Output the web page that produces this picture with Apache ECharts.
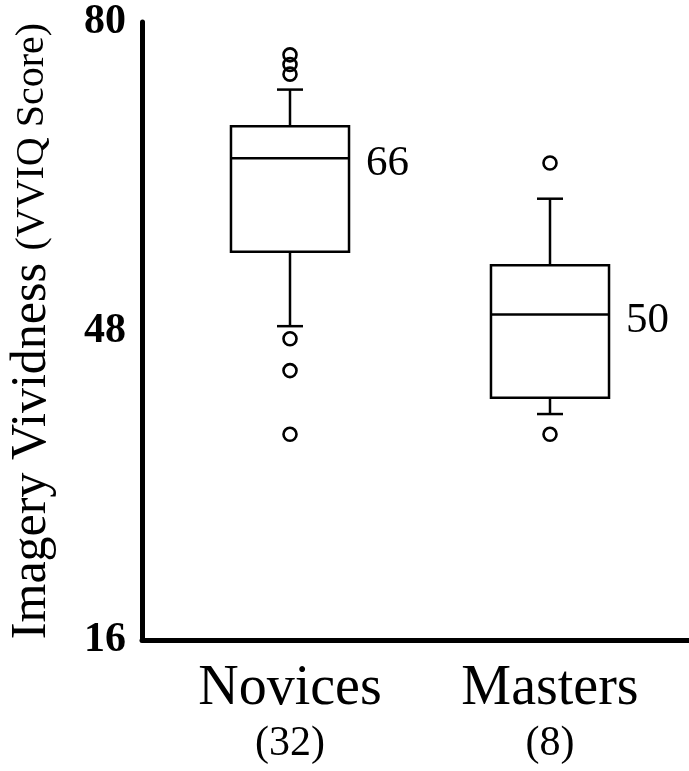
<!DOCTYPE html>
<html>
<head>
<meta charset="utf-8">
<script src="https://cdn.jsdelivr.net/npm/echarts@6/dist/echarts.min.js"></script>
<style>
  html, body { margin: 0; padding: 0; background: #fff; }
  #chart1 { width: 689px; height: 771px; }
</style>
</head>
<body>
<div id="chart1"></div>
<script>
// values
var groups = ['Novices', 'Masters'];
var groupN = [32, 8];
var whiskerLow = [48.5, 39.4];
var q1 = [56.2, 41.1];
var medians = [65.9, 49.7];
var q3 = [69.2, 54.8];
var whiskerHigh = [73.0, 61.7];
var outliersNovices = [76.6, 75.6, 74.6, 47.2, 43.9, 37.3];
var outliersMasters = [65.4, 37.3];
var yTicks = [16, 48, 80];

var FONT = '"Liberation Serif", "Times New Roman", serif';

var boxData = groups.map(function (g, i) {
    return [i, whiskerLow[i], q1[i], medians[i], q3[i], whiskerHigh[i]];
});
var outlierData = [];
outliersNovices.forEach(function (v) { outlierData.push([0, v]); });
outliersMasters.forEach(function (v) { outlierData.push([1, v]); });

function renderBox(params, api) {
    var x = api.value(0);
    var lo = api.coord([x, api.value(1)]);
    var b1 = api.coord([x, api.value(2)]);
    var md = api.coord([x, api.value(3)]);
    var b3 = api.coord([x, api.value(4)]);
    var hi = api.coord([x, api.value(5)]);
    var band = api.size([1, 0])[0];
    var hw = band * 0.227;
    var cw = band * 0.05;
    var cx = md[0];
    var st = { stroke: '#000', lineWidth: 2.5, fill: null };
    return {
        type: 'group',
        children: [
            { type: 'line', shape: { x1: cx, y1: b3[1], x2: cx, y2: hi[1] }, style: st },
            { type: 'line', shape: { x1: cx - cw, y1: hi[1], x2: cx + cw, y2: hi[1] }, style: st },
            { type: 'line', shape: { x1: cx, y1: b1[1], x2: cx, y2: lo[1] }, style: st },
            { type: 'line', shape: { x1: cx - cw, y1: lo[1], x2: cx + cw, y2: lo[1] }, style: st },
            { type: 'rect', shape: { x: cx - hw, y: b3[1], width: 2 * hw, height: b1[1] - b3[1] },
              style: { stroke: '#000', lineWidth: 2.5, fill: '#fff' } },
            { type: 'line', shape: { x1: cx - hw, y1: md[1], x2: cx + hw, y2: md[1] }, style: st },
            { type: 'text', x: cx + hw + 17, y: md[1] + 6,
              style: { text: String(Math.round(api.value(3))), fontSize: 43, fontFamily: FONT,
                       fill: '#000', align: 'left', verticalAlign: 'middle' } }
        ]
    };
}

var myChart = echarts.init(document.getElementById('chart1'));
var option = {
    backgroundColor: '#fff',
    animation: false,
    grid: [
        { left: 142, right: 0, top: 22, bottom: 131, outerBoundsMode: 'none' },
        { left: 160, right: 9, top: 22, bottom: 131, outerBoundsMode: 'none' }
    ],
    xAxis: [
        {
            gridIndex: 0, type: 'value', min: 0, max: 1,
            axisLine: { show: true, onZero: false, lineStyle: { color: '#000', width: 5 } },
            axisTick: { show: false }, axisLabel: { show: false }, splitLine: { show: false }
        },
        {
            gridIndex: 1, type: 'category', data: groups, boundaryGap: true,
            axisLine: { show: false }, axisTick: { show: false }, splitLine: { show: false },
            axisLabel: {
                margin: 19,
                interval: 0,
                formatter: function (v, i) {
                    return '{a|' + v + '}\n{b|(' + groupN[i] + ')}';
                },
                rich: {
                    a: { fontSize: 56, lineHeight: 60, fontFamily: FONT, color: '#000' },
                    b: { fontSize: 42, lineHeight: 50, fontFamily: FONT, color: '#000' }
                }
            }
        }
    ],
    yAxis: [
        {
            gridIndex: 0, type: 'value', min: 16, max: 80, interval: 16,
            axisLine: { show: true, onZero: false, lineStyle: { color: '#000', width: 5 } },
            axisTick: { show: false }, splitLine: { show: false },
            axisLabel: {
                margin: 16,
                fontSize: 42, fontWeight: 'bold', fontFamily: FONT, color: '#000',
                formatter: function (v) { return yTicks.indexOf(v) > -1 ? String(v) : ''; }
            },
            name: '{a|Imagery Vividness }{b|(VVIQ Score)}',
            nameLocation: 'middle',
            nameGap: 85,
            nameTextStyle: {
                rich: {
                    a: { fontSize: 50, fontFamily: FONT, color: '#000' },
                    b: { fontSize: 40, fontFamily: FONT, color: '#000' }
                }
            }
        },
        {
            gridIndex: 1, type: 'value', min: 16, max: 80, show: false
        }
    ],
    series: [
        {
            type: 'custom',
            xAxisIndex: 1, yAxisIndex: 1,
            renderItem: renderBox,
            encode: { x: 0, y: [1, 2, 3, 4, 5] },
            data: boxData,
            z: 2
        },
        {
            type: 'scatter',
            xAxisIndex: 1, yAxisIndex: 1,
            symbol: 'circle',
            symbolSize: 13,
            itemStyle: { color: 'rgba(0,0,0,0)', borderColor: '#000', borderWidth: 2.6, opacity: 1 },
            data: outlierData,
            z: 3
        }
    ]
};
myChart.setOption(option);
</script>
</body>
</html>
